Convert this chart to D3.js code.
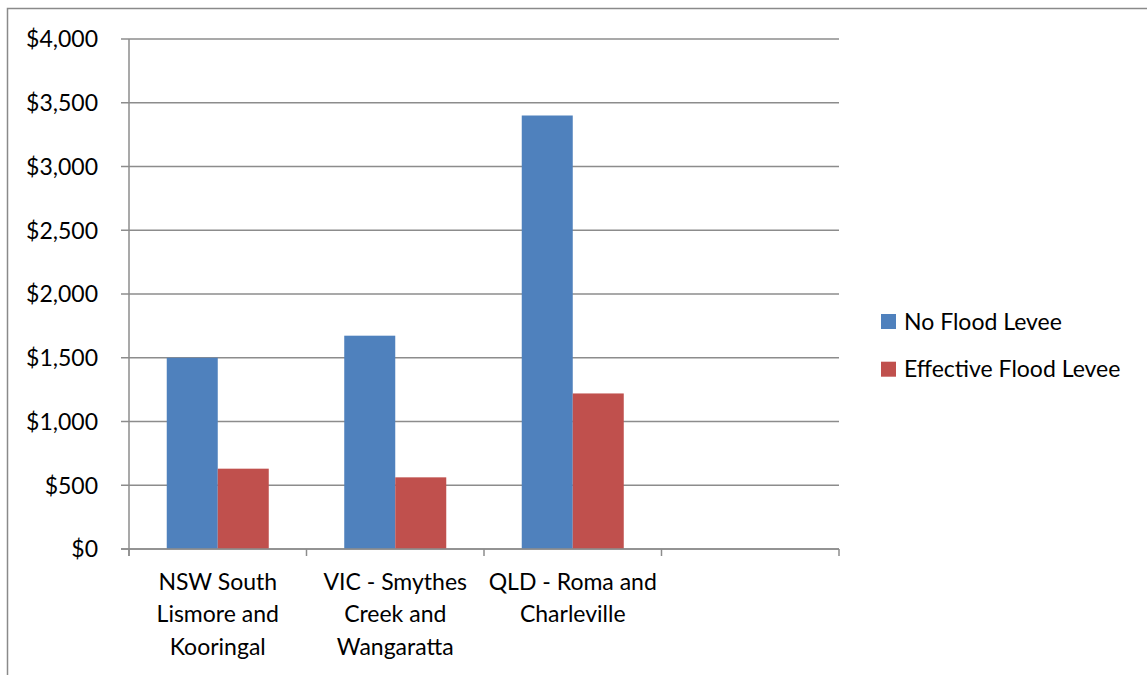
<!DOCTYPE html>
<html><head><meta charset="utf-8">
<script src="https://cdn.jsdelivr.net/npm/d3@7"></script>
<style>
html,body{margin:0;padding:0;background:#fff;}
svg{display:block;}
text{font-family:Lato,"Open Sans",sans-serif;fill:#000;}
</style></head>
<body>
<script>
const categories = ["NSW South Lismore and Kooringal", "VIC - Smythes Creek and Wangaratta", "QLD - Roma and Charleville", ""];
const categoryLines = [["NSW South","Lismore and","Kooringal"],["VIC - Smythes","Creek and","Wangaratta"],["QLD - Roma and","Charleville"],[]];
const seriesNames = ["No Flood Levee", "Effective Flood Levee"];
const noLevee = [1500, 1673, 3400, null];
const effectiveLevee = [630, 562, 1220, null];
const yTicks = [0, 500, 1000, 1500, 2000, 2500, 3000, 3500, 4000];
const colors = ["#4F81BD", "#C0504D"];

(function(){
const W = 1147, H = 675;
const FS = "23px";
const svg = d3.select("body").append("svg").attr("width", W).attr("height", H);

// outer chart border
svg.append("rect").attr("x", 7.5).attr("y", 8.5).attr("width", W + 10).attr("height", H + 10)
  .attr("fill", "none").attr("stroke", "#8a8a8a").attr("stroke-width", 1.5);

const pL = 129, pR = 839, pT = 39, pB = 549;
const x = d3.scaleBand().domain(d3.range(categories.length)).range([pL, pR]).paddingInner(0).paddingOuter(0);
const y = d3.scaleLinear().domain([0, 4000]).range([pB, pT]);
const inner = d3.scaleBand().domain([0, 1]).range([0, x.bandwidth()]).paddingInner(0).paddingOuter(0.74);

// gridlines
svg.append("g").selectAll("line").data(yTicks).join("line")
  .attr("x1", pL - 8).attr("x2", pR)
  .attr("y1", d => y(d)).attr("y2", d => y(d))
  .attr("stroke", "#8c8c8c").attr("stroke-width", 1.5);

// y tick labels
const fmt = d3.format("$,");
svg.append("g").selectAll("text").data(yTicks).join("text")
  .attr("x", 98).attr("y", d => y(d)).attr("dy", "0.36em")
  .attr("text-anchor", "end").style("font-size", FS)
  .text(d => fmt(d));

// bars
const series = [noLevee, effectiveLevee];
series.forEach((vals, si) => {
  svg.append("g").selectAll("rect").data(vals.map((v, i) => ({v, i})).filter(d => d.v != null)).join("rect")
    .attr("x", d => x(d.i) + inner(si))
    .attr("width", inner.bandwidth())
    .attr("y", d => y(d.v))
    .attr("height", d => y(0) - y(d.v))
    .attr("fill", colors[si]);
});

// axes lines
svg.append("line").attr("x1", pL).attr("x2", pL).attr("y1", pT).attr("y2", pB + 7)
  .attr("stroke", "#8c8c8c").attr("stroke-width", 1.5);
svg.append("line").attr("x1", pL - 8).attr("x2", pR).attr("y1", pB).attr("y2", pB)
  .attr("stroke", "#8c8c8c").attr("stroke-width", 1.5);
const catTicks = d3.range(categories.length + 1).map(i => i < categories.length ? x(i) : pR);
svg.append("g").selectAll("line").data(catTicks).join("line")
  .attr("x1", d => d).attr("x2", d => d).attr("y1", pB).attr("y2", pB + 7)
  .attr("stroke", "#8c8c8c").attr("stroke-width", 1.5);

// category labels
categoryLines.forEach((lines, i) => {
  const cx = x(i) + x.bandwidth() / 2;
  const t = svg.append("text").attr("text-anchor", "middle").style("font-size", FS)
    .attr("x", cx).attr("y", 590);
  lines.forEach((ln, j) => t.append("tspan").attr("x", cx).attr("y", 590 + j * 32.3).text(ln));
});

// legend
const lg = svg.append("g");
seriesNames.forEach((n, i) => {
  const yy = 314 + i * 47.7;
  lg.append("rect").attr("x", 881).attr("y", yy).attr("width", 15).attr("height", 15).attr("fill", colors[i]);
  lg.append("text").attr("x", 904).attr("y", yy + 7.5).attr("dy", "0.36em").style("font-size", FS).text(n);
});
})();
</script>
</body></html>
